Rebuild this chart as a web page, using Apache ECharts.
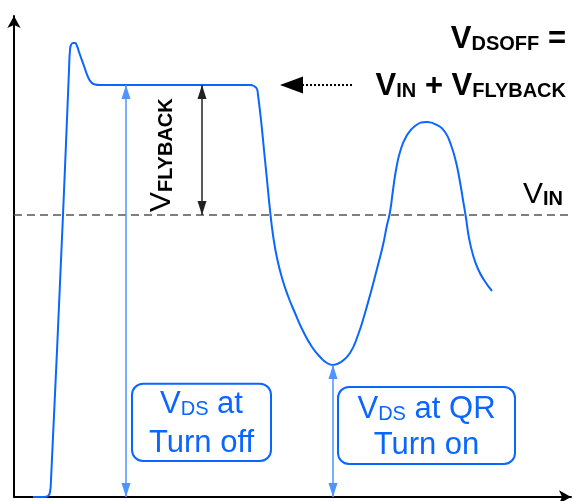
<!DOCTYPE html>
<html><head><meta charset="utf-8">
<script src="https://cdn.jsdelivr.net/npm/echarts@6/dist/echarts.min.js"></script>
<style>html,body{margin:0;padding:0;background:#fff}#c{width:574px;height:501px}</style>
</head><body><div id="c"></div>
<script>
// time axis (arbitrary units) and drain-source voltage waveform (arbitrary units)
const t   = [19, 30, 34, 36, 37, 49, 55, 56, 57, 59, 61, 63, 65, 70, 74, 77, 81, 86, 236, 240, 243,
             244, 247, 250, 253, 256, 259, 263, 268, 274, 281, 289, 298, 307, 313, 319,
             327, 336, 344, 351, 358, 364, 369, 373, 376, 379, 382, 386, 392, 401, 413,
             423, 431, 437, 442, 446, 449, 452, 455, 459, 464, 470, 478];
const vds = [0, 0, 1, 5, 17, 282, 427, 447, 452, 454, 454, 451, 445, 431, 420, 415, 412.5, 412, 412, 411, 408,
             402, 377, 347, 317, 287, 262, 239, 219, 201, 184, 166, 150, 139, 134, 132,
             135, 144, 162, 184, 209, 232, 252, 272, 285, 307, 327, 345, 360, 371, 375,
             372, 365, 352, 335, 315, 297, 279, 259, 242, 228, 217, 206];
// reference levels
const V_IN = 282;
const V_DSOFF = 412;
const V_QR = 132;
// annotation instants
const T_TURNOFF = 112;
const T_FLYBACK = 188;
const T_QR = 319;
const POINTER_FROM = 338, POINTER_TO = 266;
const X_MAX = 557, Y_MAX = 481;

const BLUE = '#0a66ff';
const LIGHTBLUE = '#4d94ff';
const FONT = '"Liberation Sans", Arial, Helvetica, sans-serif';

const chart = echarts.init(document.getElementById('c'));

function dblArrow(x1, y1, x2, y2, color, w, h) {
  return [
    {coord: [x1, y1], symbol: 'triangle', symbolSize: [w, h], symbolOffset: [0, h / 2], lineStyle: {color: color, width: 1.5, type: 'solid'}},
    {coord: [x2, y2], symbol: 'triangle', symbolSize: [w, h], symbolOffset: [0, h / 2]}
  ];
}

const option = {
  animation: false,
  backgroundColor: '#fff',
  grid: {left: 14, right: 3, top: 16, bottom: 4},
  xAxis: {
    type: 'value', min: 0, max: X_MAX,
    axisLine: {show: true, symbol: ['none', 'arrow'], symbolSize: [10, 12], lineStyle: {color: '#000', width: 2}},
    axisTick: {show: false}, axisLabel: {show: false}, splitLine: {show: false}
  },
  yAxis: {
    type: 'value', min: 0, max: Y_MAX,
    axisLine: {show: true, symbol: ['none', 'arrow'], symbolSize: [10, 12], lineStyle: {color: '#000', width: 2}},
    axisTick: {show: false}, axisLabel: {show: false}, splitLine: {show: false}
  },
  series: [{
    type: 'line',
    data: t.map((x, i) => [x, vds[i]]),
    smooth: 0.5,
    symbol: 'none',
    clip: false,
    silent: true,
    lineStyle: {color: BLUE, width: 2},
    z: 3,
    markLine: {
      silent: true,
      animation: false,
      symbol: ['none', 'none'],
      label: {show: false},
      emphasis: {disabled: true},
      data: [
        {yAxis: V_IN, lineStyle: {color: '#555', width: 1.5, type: [8, 5]}},
        dblArrow(T_TURNOFF, V_DSOFF, T_TURNOFF, 0, LIGHTBLUE, 9, 14),
        dblArrow(T_QR, V_QR, T_QR, 0, LIGHTBLUE, 9, 14),
        dblArrow(T_FLYBACK, V_DSOFF, T_FLYBACK, V_IN, '#222', 9, 14),
        [
          {coord: [POINTER_FROM, V_DSOFF], symbol: 'none', lineStyle: {color: '#000', width: 2, type: [2, 2]}},
          {coord: [POINTER_TO, V_DSOFF], symbol: 'triangle', symbolSize: [17, 23], symbolOffset: [0, 11.5]}
        ]
      ]
    }
  }],
  graphic: [
    {type: 'text', x: 566, y: 23.8, silent: true, style: {
      text: '{m|V}{s|DSOFF}{m| =}', align: 'right', verticalAlign: 'top', fill: '#000', font: 'bold 31px ' + FONT,
      rich: {
        m: {fontSize: 31, fontWeight: 'bold', fontFamily: FONT, lineHeight: 31, verticalAlign: 'bottom', fill: '#000'},
        s: {fontSize: 20, fontWeight: 'bold', fontFamily: FONT, lineHeight: 13.4, verticalAlign: 'bottom', fill: '#000'}
      }}},
    {type: 'text', x: 566, y: 70.8, silent: true, style: {
      text: '{m|V}{s|IN}{m| + V}{s|FLYBACK}', align: 'right', verticalAlign: 'top', fill: '#000', font: 'bold 31px ' + FONT,
      rich: {
        m: {fontSize: 31, fontWeight: 'bold', fontFamily: FONT, lineHeight: 31, verticalAlign: 'bottom', fill: '#000'},
        s: {fontSize: 20, fontWeight: 'bold', fontFamily: FONT, lineHeight: 15.4, verticalAlign: 'bottom', fill: '#000'}
      }}},
    {type: 'text', x: 563, y: 179.6, silent: true, style: {
      text: '{m|V}{s|IN}', align: 'right', verticalAlign: 'top', fill: '#000', font: '30px ' + FONT,
      rich: {
        m: {fontSize: 30, fontFamily: FONT, lineHeight: 30, verticalAlign: 'bottom', fill: '#000'},
        s: {fontSize: 20, fontWeight: 'bold', fontFamily: FONT, lineHeight: 13, verticalAlign: 'bottom', fill: '#000'}
      }}},
    {type: 'text', x: 146.6, y: 212, rotation: Math.PI / 2, silent: true, style: {
      text: '{m|V}{s|FLYBACK}', align: 'left', verticalAlign: 'top', fill: '#000', font: '30px ' + FONT,
      rich: {
        m: {fontSize: 30, fontFamily: FONT, lineHeight: 30, verticalAlign: 'bottom', fill: '#000'},
        s: {fontSize: 20, fontWeight: 'bold', fontFamily: FONT, lineHeight: 13, verticalAlign: 'bottom', fill: '#000'}
      }}},
    {type: 'text', x: 201.5, y: 384.8, silent: true, style: {
      text: '{m|V}{s|DS}{m| at}\n{n|Turn off}', align: 'center', verticalAlign: 'top', fill: BLUE, font: '31px ' + FONT,
      width: 137, padding: [0, 0, 1.2, 0],
      borderColor: BLUE, borderWidth: 2, borderRadius: 10, backgroundColor: '#fff',
      rich: {
        m: {fontSize: 31, fontFamily: FONT, lineHeight: 35, verticalAlign: 'bottom', fill: BLUE},
        s: {fontSize: 20, fontFamily: FONT, lineHeight: 19.4, verticalAlign: 'bottom', fill: BLUE},
        n: {fontSize: 31, fontFamily: FONT, lineHeight: 39, verticalAlign: 'bottom', fill: BLUE}
      }}},
    {type: 'text', x: 426.5, y: 388, silent: true, style: {
      text: '{m|V}{s|DS}{m| at QR}\n{n|Turn on}', align: 'center', verticalAlign: 'top', fill: BLUE, font: '31px ' + FONT,
      width: 175, padding: [0, 0, 2, 0],
      borderColor: BLUE, borderWidth: 2, borderRadius: 10, backgroundColor: '#fff',
      rich: {
        m: {fontSize: 31, fontFamily: FONT, lineHeight: 36.5, verticalAlign: 'bottom', fill: BLUE},
        s: {fontSize: 20, fontFamily: FONT, lineHeight: 20.9, verticalAlign: 'bottom', fill: BLUE},
        n: {fontSize: 31, fontFamily: FONT, lineHeight: 36.5, verticalAlign: 'bottom', fill: BLUE}
      }}}
  ]
};
chart.setOption(option);
</script>
</body></html>
